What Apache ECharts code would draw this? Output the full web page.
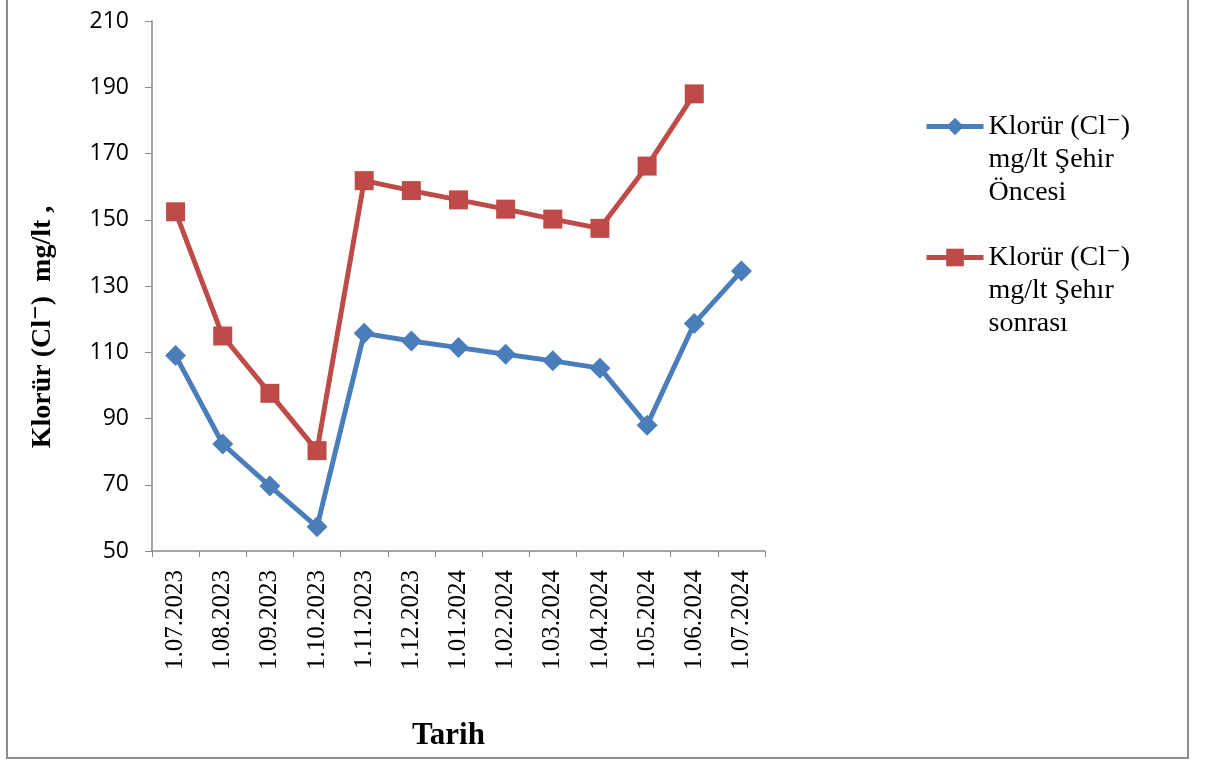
<!DOCTYPE html>
<html><head><meta charset="utf-8">
<script src="https://cdn.jsdelivr.net/npm/echarts@6/dist/echarts.min.js"></script>
<style>html,body{margin:0;padding:0;background:#fff}#c{width:1206px;height:760px}</style>
</head><body><div id="c"></div>
<script>
const categories = ['1.07.2023','1.08.2023','1.09.2023','1.10.2023','1.11.2023','1.12.2023','1.01.2024','1.02.2024','1.03.2024','1.04.2024','1.05.2024','1.06.2024','1.07.2024'];
const onceValues = [109, 82.3, 69.6, 57.3, 115.7, 113.4, 111.4, 109.4, 107.4, 105.2, 88, 118.7, 134.5];
const sonraValues = [152.4, 114.9, 97.6, 80.3, 161.8, 158.8, 156, 153.2, 150.2, 147.4, 166.2, 188, null];
const yTicks = {min: 50, max: 210, interval: 20};
const seriesNames = ['Klorür (Cl\u207B)\nmg/lt Şehir\nÖncesi', 'Klorür (Cl\u207B)\nmg/lt Şehır\nsonrası'];

const serif = '"Liberation Serif", "DejaVu Serif", serif';
const chart = echarts.init(document.getElementById('c'), null, {renderer: 'canvas'});
chart.setOption({
  animation: false,
  backgroundColor: '#fff',
  grid: {left: 152, right: 441, top: 21, bottom: 209, containLabel: false},
  legend: {
    orient: 'vertical', left: 924, top: 44, padding: 0,
    itemWidth: 57, itemHeight: 22, itemGap: -34,
    formatter: function (n) { return '\n\n' + n; },
    lineStyle: {width: 5},
    textStyle: {fontFamily: serif, fontSize: 28, color: '#000', lineHeight: 33},
    data: seriesNames
  },
  xAxis: {
    type: 'category', data: categories, boundaryGap: true,
    name: 'Tarih', nameLocation: 'middle', nameGap: 169,
    nameTextStyle: {fontFamily: serif, fontSize: 31, fontWeight: 'bold', color: '#000', padding: [0, 20, 0, 0]},
    axisLine: {lineStyle: {color: '#888', width: 1.5}},
    axisTick: {show: true, alignWithLabel: false, length: 6, lineStyle: {color: '#888'}},
    axisLabel: {rotate: 90, fontFamily: serif, fontSize: 25, color: '#000', margin: 19, interval: 0}
  },
  yAxis: {
    type: 'value', min: yTicks.min, max: yTicks.max, interval: yTicks.interval,
    name: 'Klorür (Cl\u207B)  mg/lt ,', nameLocation: 'middle', nameGap: 95,
    nameTextStyle: {fontFamily: serif, fontSize: 28, fontWeight: 'bold', color: '#000', padding: [0, 82, 0, 0]},
    axisLine: {show: true, lineStyle: {color: '#888', width: 1.5}},
    axisTick: {show: true, length: 7, lineStyle: {color: '#888'}},
    splitLine: {show: false},
    axisLabel: {fontFamily: '"Open Sans", "Noto Sans", sans-serif', fontSize: 23, color: '#000', margin: 23}
  },
  series: [
    {name: seriesNames[0], type: 'line', data: onceValues, symbol: 'diamond', symbolSize: 21,
      lineStyle: {color: '#4A7EBB', width: 5}, itemStyle: {color: '#4A7EBB'}},
    {name: seriesNames[1], type: 'line', data: sonraValues, symbol: 'rect', symbolSize: 19,
      lineStyle: {color: '#BE4B48', width: 5}, itemStyle: {color: '#BE4B48'}}
  ],
  graphic: [{type: 'rect', shape: {x: 7, y: -10, width: 1181, height: 768},
    style: {fill: 'none', stroke: '#8c8c8c', lineWidth: 2}, silent: true, z: -1}]
});
</script></body></html>
